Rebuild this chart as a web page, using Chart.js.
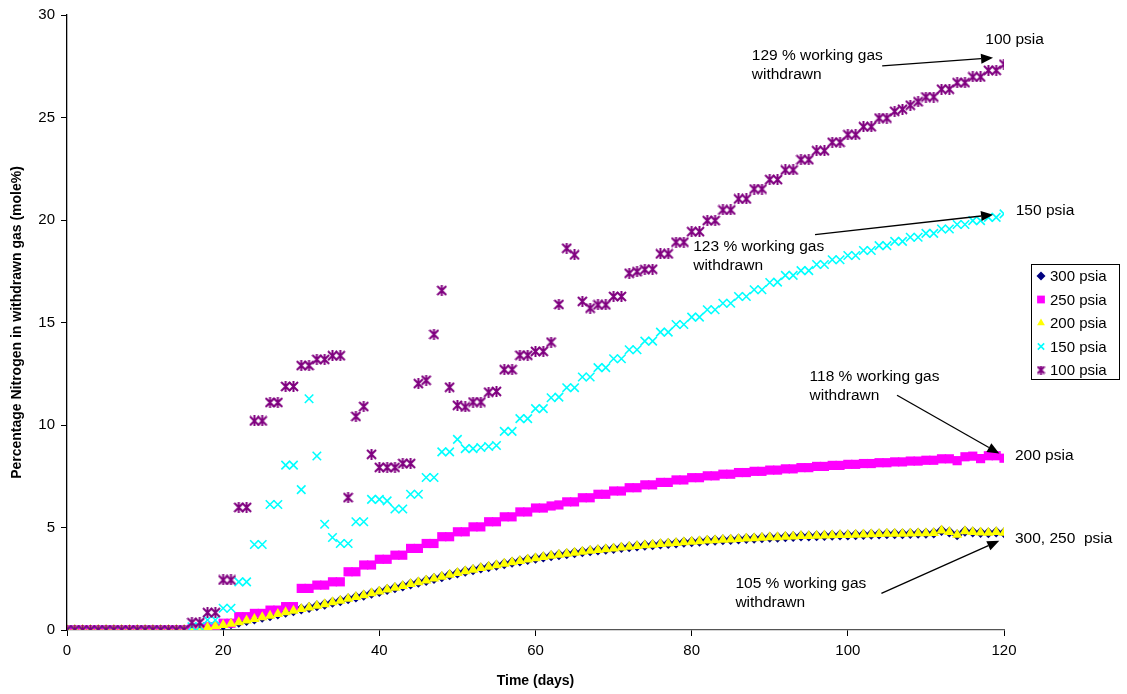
<!DOCTYPE html>
<html>
<head>
<meta charset="utf-8">
<title>Nitrogen in withdrawn gas</title>
<script src="https://cdn.jsdelivr.net/npm/chart.js@4.4.1/dist/chart.umd.min.js"></script>
<style>
  body { margin: 0; background: #fff; }
  #chart { display: block; }
</style>
</head>
<body>
<canvas id="chart" width="1127" height="694"></canvas>
<script>
// time axis (days)
var days = [
  0, 1, 2, 3, 4, 5, 6, 7, 8, 9, 10, 11, 12, 13, 14, 15, 16, 17, 18, 19,
  20, 21, 22, 23, 24, 25, 26, 27, 28, 29, 30, 31, 32, 33, 34, 35, 36, 37, 38, 39,
  40, 41, 42, 43, 44, 45, 46, 47, 48, 49, 50, 51, 52, 53, 54, 55, 56, 57, 58, 59,
  60, 61, 62, 63, 64, 65, 66, 67, 68, 69, 70, 71, 72, 73, 74, 75, 76, 77, 78, 79,
  80, 81, 82, 83, 84, 85, 86, 87, 88, 89, 90, 91, 92, 93, 94, 95, 96, 97, 98, 99,
  100, 101, 102, 103, 104, 105, 106, 107, 108, 109, 110, 111, 112, 113, 114, 115, 116, 117, 118, 119,
  120
];

// nitrogen mole% per day, one list per pressure
var n300 = [
  0, 0, 0, 0, 0, 0, 0, 0, 0, 0, 0, 0, 0, 0, 0, 0, 0.02, 0.06, 0.12, 0.18,
  0.24, 0.3, 0.38, 0.46, 0.54, 0.62, 0.7, 0.78, 0.86, 0.94, 1.02, 1.1, 1.18, 1.26, 1.35, 1.43, 1.52, 1.61, 1.7, 1.79,
  1.88, 1.97, 2.06, 2.15, 2.24, 2.33, 2.42, 2.51, 2.6, 2.69, 2.78, 2.86, 2.94, 3.02, 3.09, 3.16, 3.23, 3.3, 3.37, 3.44,
  3.5, 3.56, 3.62, 3.67, 3.72, 3.77, 3.82, 3.86, 3.9, 3.94, 3.98, 4.02, 4.06, 4.1, 4.13, 4.16, 4.19, 4.22, 4.25, 4.28,
  4.31, 4.33, 4.36, 4.38, 4.4, 4.42, 4.44, 4.46, 4.48, 4.5, 4.52, 4.53, 4.55, 4.56, 4.58, 4.59, 4.6, 4.61, 4.62, 4.63,
  4.64, 4.65, 4.66, 4.67, 4.68, 4.69, 4.7, 4.7, 4.71, 4.72, 4.72, 4.73, 4.85, 4.78, 4.65, 4.82, 4.78, 4.76, 4.75, 4.78,
  4.75
];
var n250 = [
  0, 0, 0, 0, 0, 0, 0, 0, 0, 0, 0, 0, 0, 0, 0, 0, 0.05, 0.05, 0.16, 0.16,
  0.33, 0.33, 0.65, 0.65, 0.81, 0.81, 0.97, 0.97, 1.14, 1.14, 2.03, 2.03, 2.19, 2.19, 2.35, 2.35, 2.84, 2.84, 3.17, 3.17,
  3.45, 3.45, 3.65, 3.65, 3.98, 3.98, 4.22, 4.22, 4.55, 4.55, 4.79, 4.79, 5.03, 5.03, 5.28, 5.28, 5.52, 5.52, 5.76, 5.76,
  5.95, 5.95, 6.05, 6.1, 6.25, 6.25, 6.45, 6.45, 6.62, 6.62, 6.78, 6.78, 6.94, 6.94, 7.08, 7.08, 7.2, 7.2, 7.32, 7.32,
  7.43, 7.43, 7.52, 7.52, 7.6, 7.6, 7.68, 7.68, 7.74, 7.74, 7.8, 7.8, 7.86, 7.86, 7.92, 7.92, 7.98, 7.98, 8.03, 8.03,
  8.08, 8.08, 8.12, 8.12, 8.16, 8.16, 8.2, 8.2, 8.24, 8.24, 8.28, 8.28, 8.35, 8.35, 8.26, 8.45, 8.48, 8.36, 8.5, 8.5,
  8.38
];
var n200 = [
  0, 0, 0, 0, 0, 0, 0, 0, 0, 0, 0, 0, 0, 0, 0, 0, 0.02, 0.06, 0.12, 0.18,
  0.24, 0.3, 0.38, 0.46, 0.54, 0.62, 0.7, 0.78, 0.86, 0.94, 1.02, 1.1, 1.18, 1.26, 1.35, 1.43, 1.52, 1.61, 1.7, 1.79,
  1.88, 1.97, 2.06, 2.15, 2.24, 2.33, 2.42, 2.51, 2.6, 2.69, 2.78, 2.86, 2.94, 3.02, 3.09, 3.16, 3.23, 3.3, 3.37, 3.44,
  3.5, 3.56, 3.62, 3.67, 3.72, 3.77, 3.82, 3.86, 3.9, 3.94, 3.98, 4.02, 4.06, 4.1, 4.13, 4.16, 4.19, 4.22, 4.25, 4.28,
  4.31, 4.33, 4.36, 4.38, 4.4, 4.42, 4.44, 4.46, 4.48, 4.5, 4.52, 4.53, 4.55, 4.56, 4.58, 4.59, 4.6, 4.61, 4.62, 4.63,
  4.64, 4.65, 4.66, 4.67, 4.68, 4.69, 4.7, 4.7, 4.71, 4.72, 4.72, 4.73, 4.85, 4.78, 4.65, 4.82, 4.78, 4.76, 4.75, 4.78,
  4.75
];
var n150 = [
  0, 0, 0, 0, 0, 0, 0, 0, 0, 0, 0, 0, 0, 0, 0, 0, 0.16, 0.16, 0.49, 0.49,
  1.06, 1.06, 2.35, 2.35, 4.17, 4.17, 6.12, 6.12, 8.04, 8.04, 6.85, 11.28, 8.49, 5.16, 4.51, 4.22, 4.22, 5.28, 5.28, 6.37,
  6.37, 6.3, 5.9, 5.9, 6.62, 6.62, 7.44, 7.44, 8.69, 8.69, 9.3, 8.85, 8.85, 8.9, 8.95, 9.0, 9.69, 9.69, 10.31, 10.31,
  10.8, 10.8, 11.33, 11.36, 11.82, 11.82, 12.34, 12.34, 12.8, 12.8, 13.23, 13.23, 13.67, 13.67, 14.09, 14.09, 14.53, 14.53, 14.9, 14.9,
  15.26, 15.26, 15.62, 15.62, 15.94, 15.94, 16.27, 16.27, 16.6, 16.6, 16.95, 16.97, 17.3, 17.3, 17.53, 17.53, 17.83, 17.83, 18.06, 18.06,
  18.27, 18.27, 18.51, 18.51, 18.75, 18.75, 18.96, 18.96, 19.16, 19.16, 19.35, 19.35, 19.56, 19.56, 19.78, 19.78, 19.97, 19.97, 20.13, 20.13,
  20.3
];
var n100 = [
  0, 0, 0, 0, 0, 0, 0, 0, 0, 0, 0, 0, 0, 0, 0, 0, 0.36, 0.36, 0.85, 0.85,
  2.44, 2.44, 5.98, 5.98, 10.2, 10.2, 11.1, 11.1, 11.88, 11.88, 12.9, 12.9, 13.2, 13.2, 13.38, 13.38, 6.46, 10.42, 10.9, 8.57,
  7.93, 7.93, 7.93, 8.12, 8.12, 12.02, 12.18, 14.42, 16.56, 11.84, 10.96, 10.88, 11.12, 11.12, 11.6, 11.64, 12.7, 12.7, 13.4, 13.4,
  13.59, 13.59, 14.04, 15.88, 18.62, 18.3, 16.03, 15.7, 15.86, 15.86, 16.27, 16.27, 17.4, 17.48, 17.58, 17.6, 18.35, 18.35, 18.92, 18.92,
  19.43, 19.43, 19.97, 19.97, 20.49, 20.49, 21.03, 21.03, 21.51, 21.51, 21.97, 21.97, 22.44, 22.44, 22.94, 22.94, 23.38, 23.38, 23.79, 23.79,
  24.16, 24.16, 24.55, 24.55, 24.97, 24.97, 25.3, 25.4, 25.6, 25.77, 26.0, 26.0, 26.38, 26.38, 26.7, 26.7, 26.98, 26.98, 27.3, 27.3,
  27.6
];

var seriesNames = ['300 psia', '250 psia', '200 psia', '150 psia', '100 psia'];
var yTicks = [0, 5, 10, 15, 20, 25, 30];
var xTicks = [0, 20, 40, 60, 80, 100, 120];

// text notes on the plot, in data units
var notes = [
  { lines: ['129 % working gas', 'withdrawn'], x: 87.7, y: 28.0 },
  { lines: ['123 % working gas', 'withdrawn'], x: 80.2, y: 18.7 },
  { lines: ['118 % working gas', 'withdrawn'], x: 95.1, y: 12.34 },
  { lines: ['105 % working gas', 'withdrawn'], x: 85.6, y: 2.24 },
  { lines: ['100 psia'], x: 117.6, y: 28.77 },
  { lines: ['150 psia'], x: 121.5, y: 20.46 },
  { lines: ['200 psia'], x: 121.4, y: 8.52 },
  { lines: ['300, 250  psia'], x: 121.4, y: 4.43 }
];
var arrows = [
  { x1: 104.4, y1: 27.52, x2: 118.6, y2: 27.91 },
  { x1: 95.8, y1: 19.29, x2: 118.6, y2: 20.26 },
  { x1: 106.3, y1: 11.45, x2: 119.4, y2: 8.61 },
  { x1: 104.3, y1: 1.79, x2: 119.4, y2: 4.35 }
];

function toPoints(values) {
  return days.map(function (d, i) { return { x: d, y: values[i] }; });
}

// Excel style star marker: an X with a vertical stroke
function makeStar(color, size) {
  var c = document.createElement('canvas');
  c.width = size; c.height = size;
  var g = c.getContext('2d');
  g.strokeStyle = color;
  g.lineWidth = 2;
  g.beginPath();
  g.moveTo(1, 1); g.lineTo(size - 1, size - 1);
  g.moveTo(size - 1, 1); g.lineTo(1, size - 1);
  g.moveTo(size / 2, 0); g.lineTo(size / 2, size);
  g.stroke();
  return c;
}

var starMark = makeStar('#800080', 11);
var starSmall = makeStar('#800080', 9);

var datasets = [
  { label: seriesNames[0], data: toPoints(n300), pointStyle: 'rectRot', pointRadius: 5.5,
    backgroundColor: '#000080', borderColor: '#000080', borderWidth: 0, order: 5 },
  { label: seriesNames[1], data: toPoints(n250), pointStyle: 'rect', pointRadius: 6.5,
    backgroundColor: '#FF00FF', borderColor: '#FF00FF', borderWidth: 0, order: 4 },
  { label: seriesNames[2], data: toPoints(n200), pointStyle: 'triangle', pointRadius: 6,
    backgroundColor: '#FFFF00', borderColor: '#FFFF00', borderWidth: 0, order: 3 },
  { label: seriesNames[3], data: toPoints(n150), pointStyle: 'crossRot', pointRadius: 6,
    backgroundColor: '#00FFFF', borderColor: '#00FFFF', borderWidth: 1.6, order: 2 },
  { label: seriesNames[4], data: toPoints(n100), pointStyle: starMark, pointRadius: 5.5,
    backgroundColor: '#800080', borderColor: '#800080', borderWidth: 1.5, order: 1 }
];
datasets.forEach(function (ds) {
  ds.showLine = false;
  ds.pointHoverRadius = ds.pointRadius;
});

var annotationPlugin = {
  id: 'notes',
  afterDraw: function (chart) {
    var ctx = chart.ctx;
    var xs = chart.scales.x, ys = chart.scales.y;
    ctx.save();

    // notes
    ctx.fillStyle = '#000';
    ctx.font = '15.5px "Liberation Sans", Arial, sans-serif';
    ctx.textAlign = 'left';
    ctx.textBaseline = 'middle';
    notes.forEach(function (n) {
      var px = xs.getPixelForValue(n.x);
      var py = ys.getPixelForValue(n.y);
      n.lines.forEach(function (t, k) {
        ctx.fillText(t, px, py + k * 19);
      });
    });

    // arrows
    ctx.strokeStyle = '#000';
    ctx.lineWidth = 1.3;
    arrows.forEach(function (a) {
      var x1 = xs.getPixelForValue(a.x1), y1 = ys.getPixelForValue(a.y1);
      var x2 = xs.getPixelForValue(a.x2), y2 = ys.getPixelForValue(a.y2);
      var ang = Math.atan2(y2 - y1, x2 - x1);
      var head = 12, half = 5;
      var bx = x2 - head * Math.cos(ang), by = y2 - head * Math.sin(ang);
      ctx.beginPath();
      ctx.moveTo(x1, y1);
      ctx.lineTo(bx, by);
      ctx.stroke();
      ctx.beginPath();
      ctx.moveTo(x2, y2);
      ctx.lineTo(bx + half * Math.sin(ang), by - half * Math.cos(ang));
      ctx.lineTo(bx - half * Math.sin(ang), by + half * Math.cos(ang));
      ctx.closePath();
      ctx.fill();
    });

    // legend box
    var lx = 1031, ly = 264, lw = 88, lh = 115;
    ctx.fillStyle = '#fff';
    ctx.fillRect(lx, ly, lw, lh);
    ctx.strokeStyle = '#000';
    ctx.lineWidth = 1;
    ctx.strokeRect(lx + 0.5, ly + 0.5, lw, lh);
    ctx.font = '15px "Liberation Sans", Arial, sans-serif';
    datasets.forEach(function (ds, i) {
      var cy = ly + 12 + i * 23.5;
      ctx.fillStyle = ds.backgroundColor;
      ctx.strokeStyle = ds.borderColor;
      ctx.lineWidth = ds.borderWidth || 1;
      var style = ds.pointStyle === starMark ? starSmall : ds.pointStyle;
      Chart.helpers.drawPoint(ctx, {
        pointStyle: style,
        radius: ds.pointStyle === 'rect' ? 5.5 : 4.5,
        rotation: 0,
        borderWidth: ds.borderWidth
      }, lx + 10, cy);
      ctx.fillStyle = '#000';
      ctx.fillText(ds.label, lx + 19, cy + 1);
    });

    ctx.restore();
  }
};

new Chart(document.getElementById('chart'), {
  type: 'scatter',
  data: { datasets: datasets },
  options: {
    responsive: false,
    animation: false,
    layout: { padding: { left: 0, right: 123, top: 14, bottom: 0 } },
    plugins: {
      legend: { display: false },
      tooltip: { enabled: false }
    },
    scales: {
      x: {
        type: 'linear',
        min: 0,
        max: 120,
        afterFit: function (s) { s.height = 64; },
        afterBuildTicks: function (s) { s.ticks = xTicks.map(function (v) { return { value: v }; }); },
        ticks: { color: '#000', padding: 6, font: { size: 15, family: '"Liberation Sans", Arial, sans-serif' } },
        grid: { drawOnChartArea: false, drawTicks: true, tickLength: 6, color: '#000' },
        border: { color: '#555', width: 1.3 },
        title: {
          display: true,
          text: 'Time (days)',
          color: '#000',
          padding: { top: 0, bottom: 4 },
          font: { size: 14, weight: 'bold', family: '"Liberation Sans", Arial, sans-serif' }
        }
      },
      y: {
        min: 0,
        max: 30,
        afterFit: function (s) { s.width = 67; },
        afterBuildTicks: function (s) { s.ticks = yTicks.map(function (v) { return { value: v }; }); },
        ticks: { color: '#000', padding: 6, font: { size: 15, family: '"Liberation Sans", Arial, sans-serif' } },
        grid: { drawOnChartArea: false, drawTicks: true, tickLength: 6, color: '#000' },
        border: { color: '#000', width: 1.3 },
        title: {
          display: true,
          text: 'Percentage Nitrogen in withdrawn gas (mole%)',
          color: '#000',
          padding: { top: 9, bottom: 0 },
          font: { size: 14, weight: 'bold', family: '"Liberation Sans", Arial, sans-serif' }
        }
      }
    }
  },
  plugins: [annotationPlugin]
});
</script>
</body>
</html>
